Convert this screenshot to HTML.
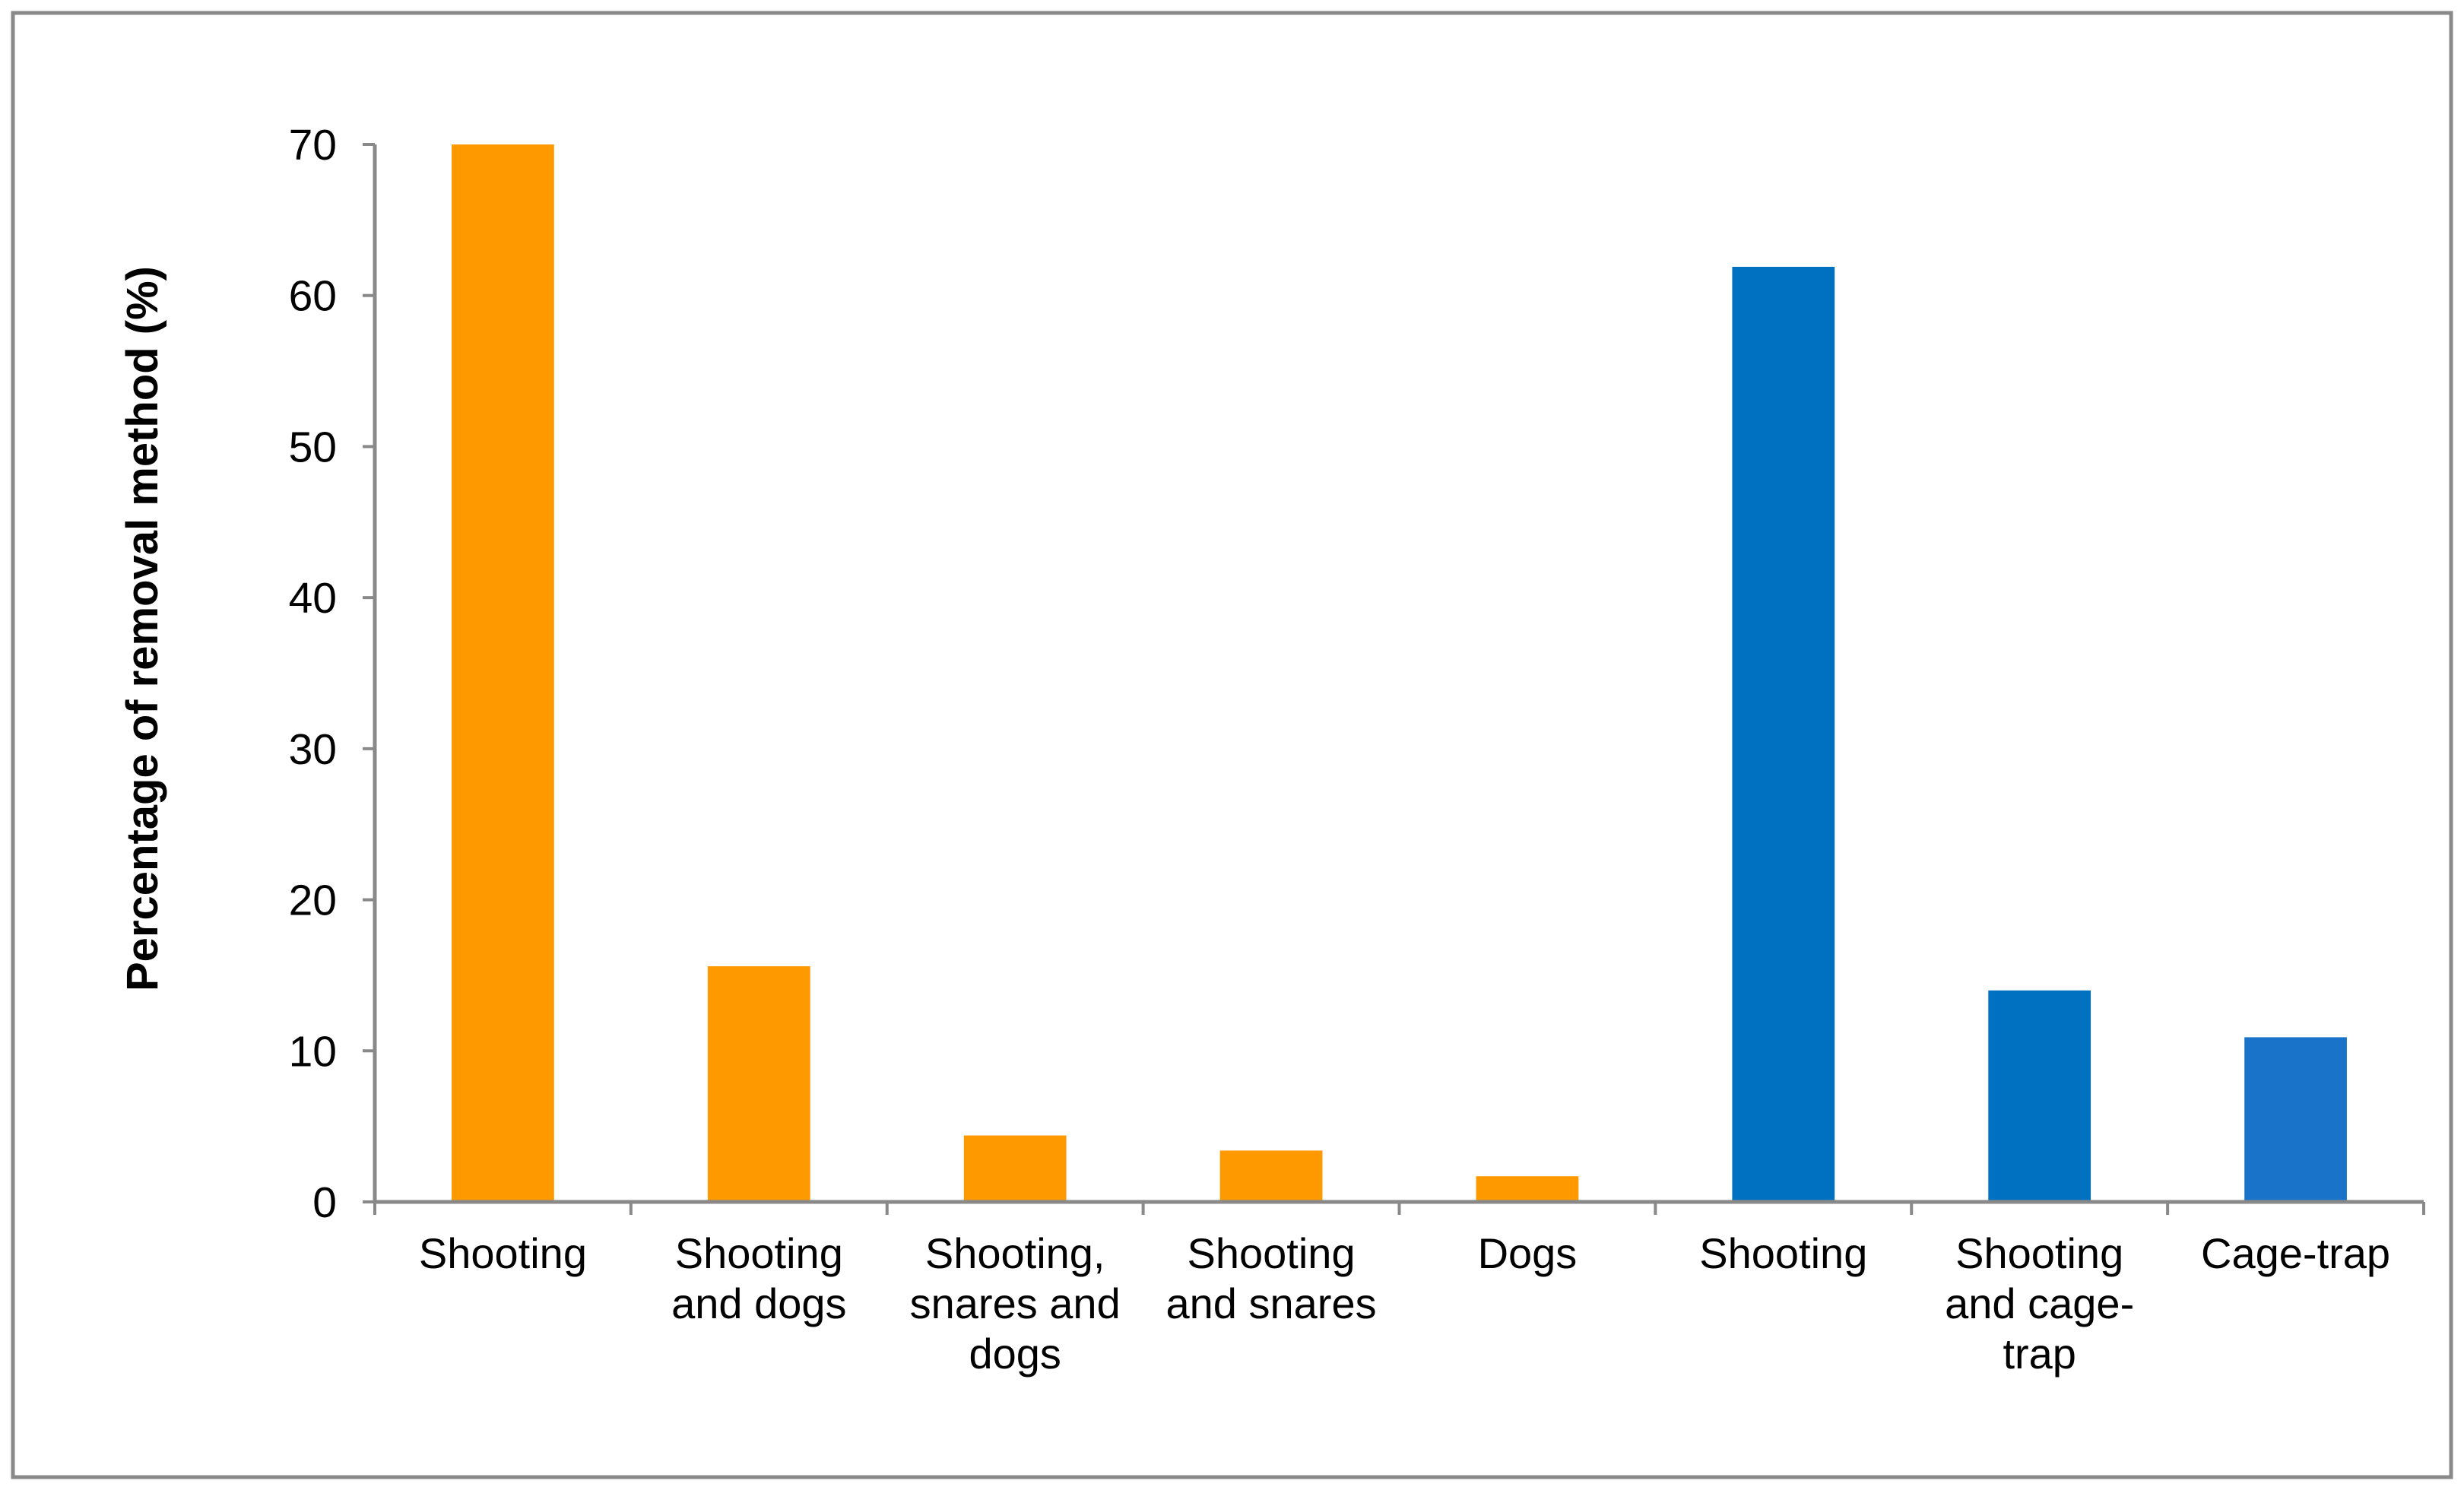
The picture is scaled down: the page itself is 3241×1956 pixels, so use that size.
<!DOCTYPE html>
<html><head><meta charset="utf-8"><style>
html,body{margin:0;padding:0;background:#fff;}
svg{display:block;font-family:"Liberation Sans",Arial,sans-serif;}
</style></head><body>
<svg id="chart" width="3241" height="1956" viewBox="0 0 3241 1956" xmlns="http://www.w3.org/2000/svg">
<rect x="17" y="17" width="3207" height="1926" fill="#fff" stroke="#898989" stroke-width="5"/>
<text transform="translate(207,827) rotate(-90)" text-anchor="middle" font-size="58" font-weight="bold" fill="#000">Percentage of removal method (%)</text>
<g id="plot"></g>
</svg>
<script>
const categories = [["Shooting"],["Shooting","and dogs"],["Shooting,","snares and","dogs"],["Shooting","and snares"],["Dogs"],["Shooting"],["Shooting","and cage-","trap"],["Cage-trap"]];
const values = [70, 15.6, 4.4, 3.4, 1.7, 61.9, 14.0, 10.9];
const colors = ["#FF9900","#FF9900","#FF9900","#FF9900","#FF9900","#0070C0","#0070C0","#1873C9"];
const yTicks = [0,10,20,30,40,50,60,70];

const NS="http://www.w3.org/2000/svg";
const g=document.getElementById('plot');
const x0=493, x1=3188, y0=1581, yTop=190, yMax=70;
const bw=(x1-x0)/categories.length;
const Y=v=>y0-(v/yMax)*(y0-yTop);
function mk(t,a){const e=document.createElementNS(NS,t);for(const k in a)e.setAttribute(k,a[k]);g.appendChild(e);return e;}

values.forEach((v,i)=>{
  const w=bw*0.4, cx=x0+bw*(i+0.5);
  const r=mk('rect',{x:cx-w/2,y:Y(v),width:w,height:y0-Y(v),fill:colors[i]});
  
  
  categories[i].forEach((line,j)=>{
    const t=mk('text',{x:cx,y:1668+j*66,'text-anchor':'middle','font-size':56,fill:'#000'});
    t.textContent=line;
    
    
  });
});
yTicks.forEach(v=>{
  const l=mk('line',{x1:x0-16,x2:x0,y1:Y(v),y2:Y(v),stroke:'#898989','stroke-width':4});
  
  
  const t=mk('text',{x:443,y:Y(v)+20,'text-anchor':'end','font-size':57,fill:'#000'});
  t.textContent=v;
  
  
});
for(let i=0;i<=categories.length;i++){
  const xx=x0+bw*i;
  const l=mk('line',{x1:xx,x2:xx,y1:y0,y2:y0+17,stroke:'#898989','stroke-width':4});
  
  
}
const ya=mk('line',{x1:x0,x2:x0,y1:yTop,y2:y0,stroke:'#898989','stroke-width':5});


const xa=mk('line',{x1:x0,x2:x1,y1:y0,y2:y0,stroke:'#898989','stroke-width':5});


</script>
</body></html>
